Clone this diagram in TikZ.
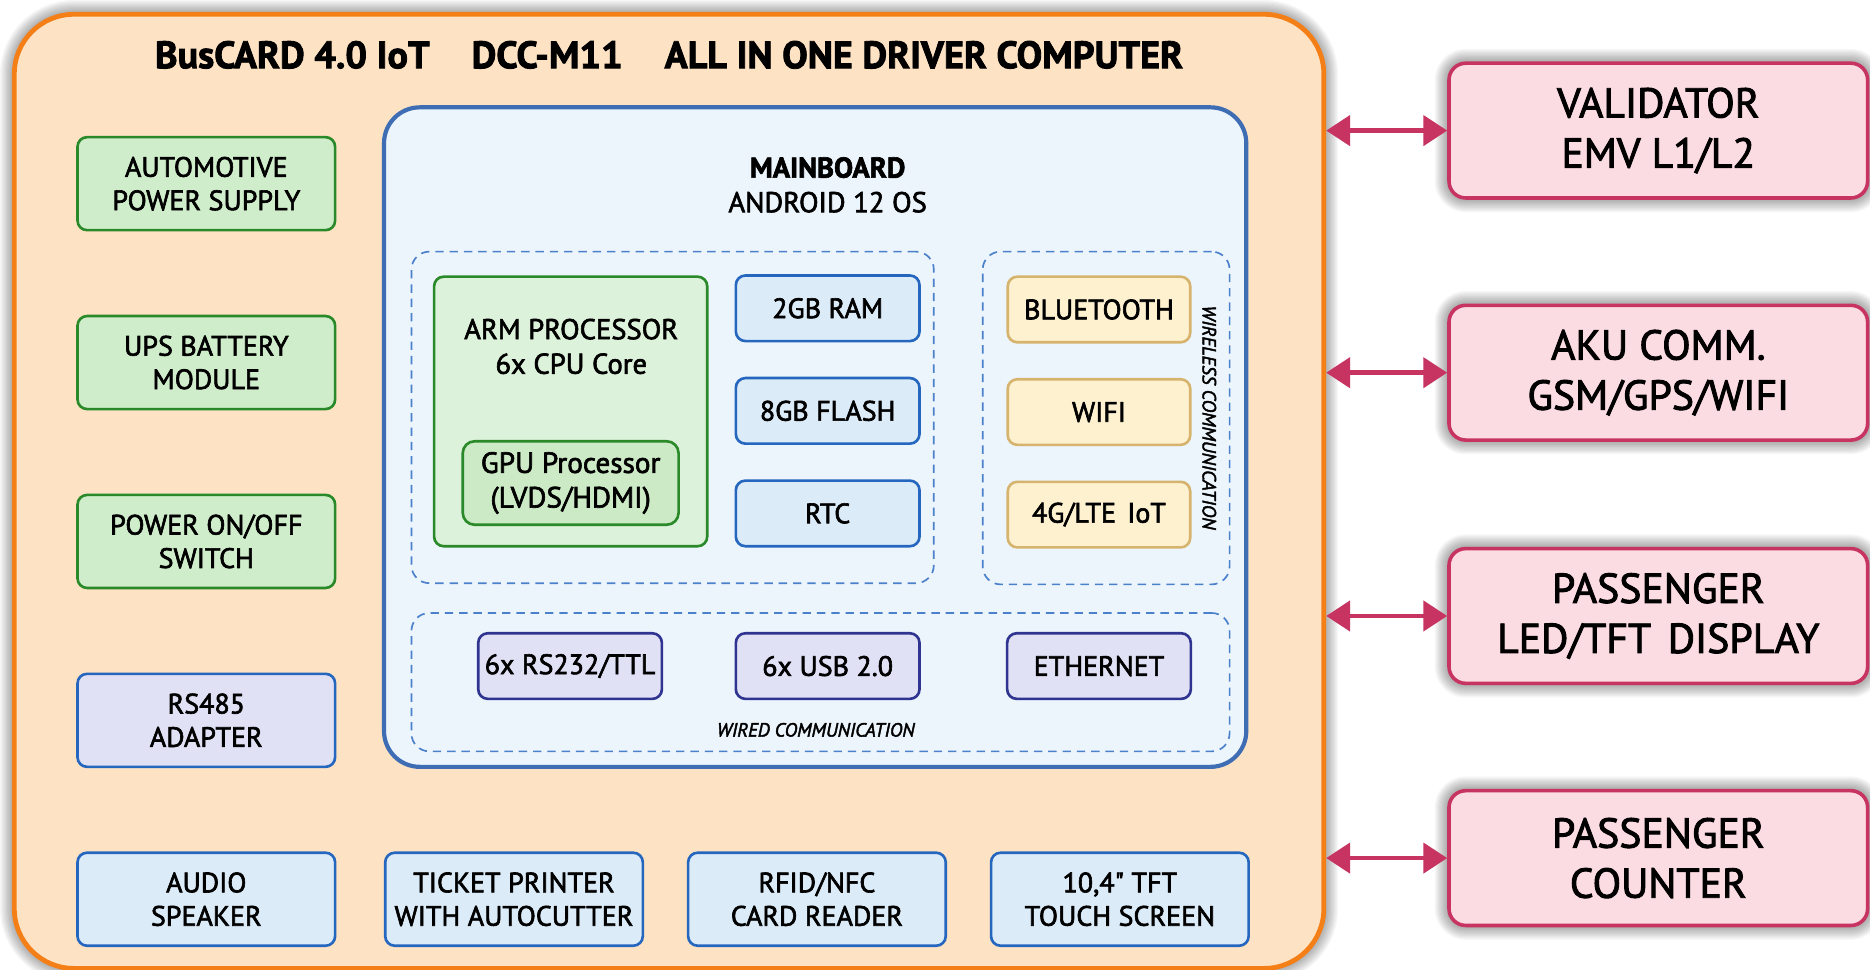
\documentclass[tikz,border=0pt]{standalone}
\usepackage{fontspec}
\setmainfont{PT Sans}[FakeBold=2.2]
\usetikzlibrary{arrows.meta}
\definecolor{orangeE}{HTML}{F57F17}
\definecolor{peach}{HTML}{FDE2C4}
\definecolor{mbblue}{HTML}{3F6DB3}
\definecolor{mbfill}{HTML}{ECF4FC}
\definecolor{dashblue}{HTML}{4B80CB}
\definecolor{grnline}{HTML}{2A8A2A}
\definecolor{grnfill}{HTML}{CFEDCB}
\definecolor{armfill}{HTML}{DDF2DA}
\definecolor{gpufill}{HTML}{CCEAC6}
\definecolor{blueline}{HTML}{2566BE}
\definecolor{bluefill}{HTML}{DCEBF8}
\definecolor{tanline}{HTML}{D6B46E}
\definecolor{tanfill}{HTML}{FDF1D0}
\definecolor{indline}{HTML}{2F3490}
\definecolor{indfill}{HTML}{E1E1F6}
\definecolor{pinkline}{HTML}{C73462}
\definecolor{pinkfill}{HTML}{FCDCE3}
\newcommand{\softshadow}[5]{%
  \foreach \i in {1,...,12}{%
    \pgfmathsetmacro{\rr}{#5+\i}%
    \fill[black,opacity=0.03,rounded corners=\rr pt] (#1-\i,#2-\i) rectangle (#3+\i,#4+\i);}}
\tikzset{
  box/.style={draw, rounded corners=8pt, line width=2.2pt, align=center, inner sep=0pt,
    font=\fontsize{23.5}{28}\selectfont, text=black},
  gbox/.style={box, draw=grnline, fill=grnfill, minimum width=216pt, minimum height=78pt},
  bbox/.style={box, draw=blueline, fill=bluefill, minimum width=216pt, minimum height=78pt},
  ibox/.style={box, draw=indline, fill=indfill, minimum width=154pt, minimum height=55pt},
  rbox/.style={box, draw=blueline, fill=bluefill, minimum width=154pt, minimum height=55pt},
  tbox/.style={box, draw=tanline, fill=tanfill, minimum width=153pt, minimum height=55pt},
  pbox/.style={box, draw=pinkline, fill=pinkfill, line width=3pt, rounded corners=14pt,
    minimum width=351pt, minimum height=113pt, font=\fontsize{35}{42}\selectfont},
  group/.style={draw=dashblue, line width=1.4pt, dash pattern=on 7pt off 5pt, rounded corners=15pt},
  biarrow/.style={draw=pinkline, line width=4pt,
    {Triangle[length=20pt,width=25pt]}-{Triangle[length=20pt,width=25pt]}},
  small/.style={font=\fontsize{16}{18}\selectfont\itshape, inner sep=0pt}
}
\begin{document}
\begin{tikzpicture}[x=1pt,y=-1pt]
\useasboundingbox[fill=white] (0,0) rectangle (1568,813);
% shadows
\softshadow{12}{12}{1110}{812}{50}
\softshadow{1215}{53}{1566}{166}{14}
\softshadow{1215}{256}{1566}{369}{14}
\softshadow{1215}{460}{1566}{573}{14}
\softshadow{1215}{663}{1566}{776}{14}
% outer
\node[draw=orangeE, fill=peach, line width=4pt, rounded corners=50pt, minimum width=1098pt, minimum height=800pt] (outer) at (561,412) {};
\node[font=\fontsize{32}{36}\selectfont\bfseries] (title) at (561,46) {BusCARD 4.0 IoT\hspace{1.1em}DCC-M11\hspace{1.1em}ALL IN ONE DRIVER COMPUTER};
% mainboard
\node[draw=mbblue, fill=mbfill, line width=3.5pt, rounded corners=30pt, minimum width=723pt, minimum height=553pt] (mb) at (683.5,366.5) {};
\node[align=center, font=\fontsize{24}{29}\selectfont] (mbtxt) at (694,155) {\textbf{MAINBOARD}\\ANDROID 12 OS};
% groups
\node[group, minimum width=438pt, minimum height=278pt] (core) at (564,350) {};
\node[group, minimum width=207pt, minimum height=279pt] (wless) at (927.5,350.5) {};
\node[group, minimum width=686pt, minimum height=116pt] (wired) at (688,572) {};
% processor
\node[box, draw=grnline, fill=armfill, minimum width=229pt, minimum height=226pt] (arm) at (478.5,345) {};
\node[align=center, font=\fontsize{24}{29}\selectfont] (armtxt) at (479,290.5) {ARM PROCESSOR\\6x CPU Core};
\node[box, draw=grnline, fill=gpufill, rounded corners=10pt, minimum width=181pt, minimum height=70pt, font=\fontsize{24.5}{29}\selectfont] (gpu) at (478.5,405) {GPU Processor\\(LVDS/HDMI)};
% memory
\node[rbox] (ram) at (694,258.5) {2GB RAM};
\node[rbox] (flash) at (694,344.5) {8GB FLASH};
\node[rbox] (rtc) at (694,430.5) {RTC};
% wireless
\node[tbox] (bt) at (921.5,259.5) {BLUETOOTH};
\node[tbox] (wifi) at (921.5,345.5) {WIFI};
\node[tbox] (lte) at (921.5,431.5) {4G/LTE\hspace{0.4em}IoT};
\node[small, rotate=-90] (wltxt) at (1014,350) {WIRELESS COMMUNICATION};
% wired
\node[ibox] (rs232) at (478,558.5) {6x RS232/TTL};
\node[ibox] (usb) at (694,558.5) {6x USB 2.0};
\node[ibox] (eth) at (921.5,558.5) {ETHERNET};
\node[small] (wdtxt) at (684,612) {WIRED COMMUNICATION};
% left column
\node[gbox] (psu) at (173,154) {AUTOMOTIVE\\POWER SUPPLY};
\node[gbox] (ups) at (173,304) {UPS BATTERY\\MODULE};
\node[gbox] (sw) at (173,454) {POWER ON/OFF\\SWITCH};
\node[box, draw=blueline, fill=indfill, minimum width=216pt, minimum height=78pt] (rs485) at (173,604) {RS485\\ADAPTER};
% bottom row
\node[bbox] (audio) at (173,754) {AUDIO\\SPEAKER};
\node[bbox] (printer) at (431,754) {TICKET PRINTER\\WITH AUTOCUTTER};
\node[bbox] (rfid) at (685,754) {RFID/NFC\\CARD READER};
\node[bbox] (tft) at (939,754) {10,4\textquotedbl{} TFT\\TOUCH SCREEN};
% external
\node[pbox] (val) at (1390.5,109.5) {VALIDATOR\\EMV L1/L2};
\node[pbox] (aku) at (1390.5,312.5) {AKU COMM.\\GSM/GPS/WIFI};
\node[pbox] (disp) at (1390.5,516.5) {PASSENGER\\LED/TFT\hspace{0.4em}DISPLAY};
\node[pbox] (cnt) at (1390.5,719.5) {PASSENGER\\COUNTER};
% connectors
\draw[biarrow] (outer.east |- val.west) -- (val.west);
\draw[biarrow] (outer.east |- aku.west) -- (aku.west);
\draw[biarrow] (outer.east |- disp.west) -- (disp.west);
\draw[biarrow] (outer.east |- cnt.west) -- (cnt.west);
\end{tikzpicture}
\end{document}
